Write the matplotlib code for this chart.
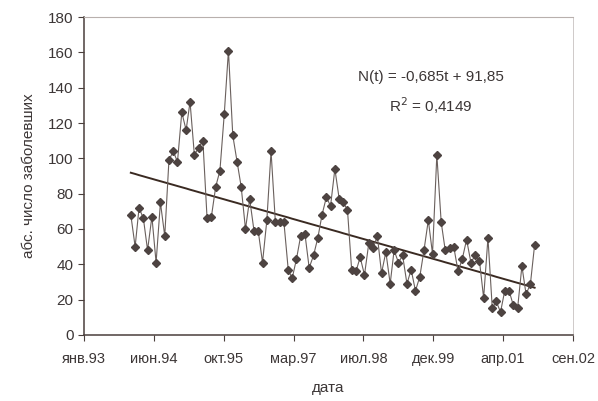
import numpy as np
import pandas as pd
import matplotlib
matplotlib.use("Agg")
import matplotlib.pyplot as plt
import matplotlib.dates as mdates
from matplotlib.ticker import FuncFormatter, MultipleLocator

# -------------------------------------------------------
# DATA: monthly counts, Jan 1994 - Dec 2001
# -------------------------------------------------------
start_month = "1994-01-01"
cases = [68, 50, 72, 66, 48, 67, 41, 75, 56, 99, 104, 98,
         126, 116, 132, 102, 106, 110, 66, 67, 84, 93, 125, 161,
         113, 98, 84, 60, 77, 59, 59, 41, 65, 104, 64, 64,
         64, 37, 32, 43, 56, 57, 38, 45, 55, 68, 78, 73,
         94, 77, 75, 71, 37, 36, 44, 34, 52, 49, 56, 35,
         47, 29, 48, 41, 45, 29, 37, 25, 33, 48, 65, 46,
         102, 64, 48, 49, 50, 36, 43, 54, 41, 45, 42, 21,
         55, 15, 19, 13, 25, 25, 17, 15, 39, 23, 29, 51]

# linear trend N(t) = a*t + b
trend_a = -0.685
trend_b = 91.85
r2 = 0.4149

ru_months = ["янв", "фев", "мар", "апр", "май", "июн",
             "июл", "авг", "сен", "окт", "ноя", "дек"]

dates = pd.date_range(start_month, periods=len(cases), freq="MS")
t = np.arange(len(cases))
trend = trend_a * t + trend_b

# axis runs in 500-day steps
axis_start = pd.Timestamp("1993-01-31")
tick_dates = [axis_start + pd.Timedelta(days=500 * k) for k in range(8)]
tick_pos = mdates.date2num(tick_dates)

# -------------------------------------------------------
# PLOT
# -------------------------------------------------------
plt.rcParams["font.family"] = ["Liberation Sans", "DejaVu Sans"]
txt = "#3c3636"
ax_col = "#4a3f3c"

fig = plt.figure(figsize=(5.98, 4.01), dpi=100)
ax = fig.add_axes([0.1405, 0.1646, 0.8175, 0.793])

ax.plot(dates, cases, color="#6a605d", lw=0.8, marker="D", ms=3.9,
        mfc="#4d4341", mec="#4d4341", zorder=3)
ax.plot(dates, trend, color="#3a2a22", lw=1.4, zorder=2)

ax.set_xlim(tick_pos[0], tick_pos[-1])
ax.set_ylim(0, 180)
ax.set_xticks(tick_pos)


def ru_date(x, pos):
    d = mdates.num2date(x)
    return f"{ru_months[d.month - 1]}.{d.year % 100:02d}"


ax.xaxis.set_major_formatter(FuncFormatter(ru_date))
ax.yaxis.set_major_locator(MultipleLocator(20))

ax.tick_params(axis="both", colors=ax_col, labelcolor=txt, labelsize=11,
               direction="out", length=4, width=0.8)
ax.tick_params(axis="x", pad=8, labelsize=10.5)

for side in ["left", "bottom"]:
    ax.spines[side].set_color(ax_col)
    ax.spines[side].set_linewidth(1.1)
ax.spines["top"].set_color("#b8b0ad")
ax.spines["top"].set_linestyle((0, (1, 1)))
ax.spines["top"].set_linewidth(0.8)
ax.spines["right"].set_color("#c8c2c0")
ax.spines["right"].set_linewidth(0.6)

ax.set_xlabel("дата", fontsize=11, color=txt, labelpad=11)
ax.set_ylabel("абс. число заболевших", fontsize=11, color=txt, labelpad=9)

ax.text(0.71, 0.81, f"N(t) = {trend_a:.3f}t + {trend_b:.2f}".replace(".", ","),
        transform=ax.transAxes, ha="center", va="center", fontsize=11, color=txt)
ax.text(0.71, 0.72, f"R$^2$ = {r2:.4f}".replace(".", ","),
        transform=ax.transAxes, ha="center", va="center", fontsize=11, color=txt)

fig.savefig("out.png", dpi=100)
